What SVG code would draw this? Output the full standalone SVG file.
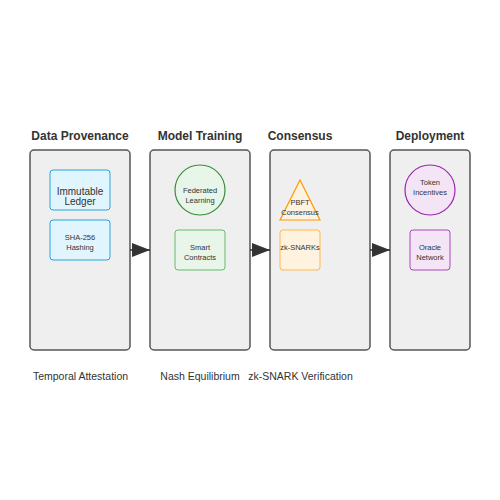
<svg xmlns="http://www.w3.org/2000/svg" width="500" height="500" viewBox="0 0 500 500">
<style>
text{font-family:"Liberation Sans",Arial,sans-serif;fill:#333;text-anchor:middle}
.title{font-size:12px;font-weight:bold}
.panel{fill:#efefef;stroke:#555;stroke-width:1.5}
.foot{font-size:10.5px}
.s7{font-size:7.5px}
.s10{font-size:10px}
</style>
<defs>
<marker id="ah2" viewBox="0 0 18 14" refX="18" refY="7" markerWidth="18" markerHeight="14" orient="auto" markerUnits="userSpaceOnUse">
<path d="M0,0 L18,7 L0,14 Z" fill="#333"/>
</marker>
</defs>
<rect width="500" height="500" fill="#fff"/>
<g id="stage-provenance">
<rect class="panel" x="30" y="150" width="100" height="200" rx="4"/>
<text class="title" x="80" y="140">Data Provenance</text>
<text class="foot" x="80.5" y="380">Temporal Attestation</text>
</g>
<g id="stage-training">
<rect class="panel" x="150" y="150" width="100" height="200" rx="4"/>
<text class="title" x="200" y="140">Model Training</text>
<text class="foot" x="200" y="380">Nash Equilibrium</text>
</g>
<g id="stage-consensus">
<rect class="panel" x="270" y="150" width="100" height="200" rx="4"/>
<text class="title" x="300" y="140">Consensus</text>
<text class="foot" x="300.5" y="380">zk-SNARK Verification</text>
</g>
<g id="stage-deployment">
<rect class="panel" x="390" y="150" width="80" height="200" rx="4"/>
<text class="title" x="430" y="140">Deployment</text>
</g>
<g id="immutable-ledger">
<rect x="50" y="170" width="60" height="40" rx="3" fill="#e1f5fe" stroke="#29a3dc" stroke-width="1"/>
<text class="s10" x="80" y="194.5">Immutable</text>
<text class="s10" x="80" y="205">Ledger</text>
</g>
<g id="sha256">
<rect x="50" y="220" width="60" height="40" rx="3" fill="#e1f5fe" stroke="#29a3dc" stroke-width="1"/>
<text class="s7" x="80" y="240">SHA-256</text>
<text class="s7" x="80" y="250">Hashing</text>
</g>
<g id="federated-learning">
<circle cx="200" cy="190" r="25" fill="#e8f5e9" stroke="#388e3c" stroke-width="1.2"/>
<text class="s7" x="200" y="193">Federated</text>
<text class="s7" x="200" y="203">Learning</text>
</g>
<g id="smart-contracts">
<rect x="175" y="230" width="50" height="40" rx="3" fill="#e8f5e9" stroke="#66bb6a" stroke-width="1"/>
<text class="s7" x="200" y="250">Smart</text>
<text class="s7" x="200" y="260">Contracts</text>
</g>
<g id="pbft">
<polygon points="300,180 320,220 280,220" fill="#fff3e0" stroke="#ff9800" stroke-width="1.2"/>
<text class="s7" x="300" y="205">PBFT</text>
<text class="s7" x="300" y="215">Consensus</text>
</g>
<g id="zk-snarks">
<rect x="280" y="230" width="40" height="40" rx="3" fill="#fff3e0" stroke="#ffb74d" stroke-width="1"/>
<text class="s7" x="300" y="250">zk-SNARKs</text>
</g>
<g id="token-incentives">
<circle cx="430" cy="190" r="25" fill="#f3e5f5" stroke="#9c27b0" stroke-width="1.2"/>
<text class="s7" x="430" y="185">Token</text>
<text class="s7" x="430" y="195">Incentives</text>
</g>
<g id="oracle-network">
<rect x="410" y="230" width="40" height="40" rx="3" fill="#f3e5f5" stroke="#ab47bc" stroke-width="1"/>
<text class="s7" x="430" y="250">Oracle</text>
<text class="s7" x="430" y="260">Network</text>
</g>
<g id="connectors" stroke="#333" stroke-width="1.5">
<line x1="130" y1="250" x2="150" y2="250" marker-end="url(#ah2)"/>
<line x1="250" y1="250" x2="270" y2="250" marker-end="url(#ah2)"/>
<line x1="370" y1="250" x2="390" y2="250" marker-end="url(#ah2)"/>
</g>
</svg>
